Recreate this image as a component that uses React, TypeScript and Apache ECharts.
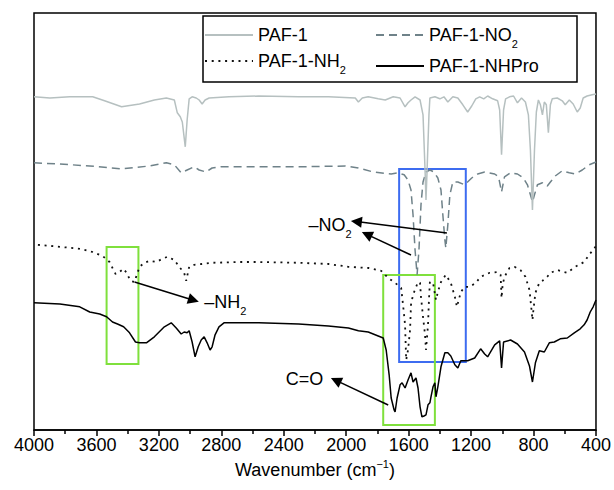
import React, { useEffect, useRef } from 'react';
import * as echarts from 'echarts';

const FONT = '"Liberation Sans", Arial, Helvetica, sans-serif';

// Wavenumber (cm-1), transmittance offset (a.u.)
const paf1: number[][] = [
  [4000,83.3],[3898,83.0],[3771,83.3],[3624,83.3],[3548,82.3],[3439,80.8],[3324,81.5],[3229,82.5],[3152,83.0],[3101,82.5],[3082,79.3],[3063,78.3],[3050,77.0],[3031,70.8],[3019,77.5],[3006,82.8],[2987,83.3],[2961,83.0],[2942,82.5],[2923,81.5],[2904,82.5],[2878,83.0],[2751,83.3],[2560,83.5],[2305,83.3],[2114,83.3],[1942,83.0],[1922,82.0],[1897,83.0],[1859,83.3],[1795,82.8],[1750,82.5],[1699,83.3],[1655,83.0],[1623,80.8],[1604,81.8],[1585,82.5],[1559,83.3],[1527,82.5],[1508,78.8],[1495,65.0],[1489,57.5],[1483,63.8],[1470,78.8],[1464,83.0],[1432,83.3],[1400,82.8],[1374,83.3],[1349,82.0],[1317,83.3],[1285,83.0],[1253,81.3],[1222,79.5],[1196,81.0],[1170,82.8],[1145,83.3],[1119,82.8],[1094,83.5],[1062,82.8],[1030,82.3],[1017,80.0],[1005,68.8],[992,80.0],[979,82.8],[954,83.3],[928,83.5],[903,81.8],[877,83.0],[852,82.0],[833,78.8],[820,70.0],[807,55.0],[794,70.0],[782,79.5],[769,82.5],[756,81.3],[743,78.8],[731,82.0],[718,81.3],[705,74.3],[692,81.3],[680,82.8],[648,83.0],[616,82.3],[597,81.3],[571,82.5],[546,81.5],[520,79.5],[501,80.5],[482,83.0],[457,83.5],[425,83.8],[400,84.0]
];

const pafNO2: number[][] = [
  [4000,66.8],[3834,66.5],[3643,66.0],[3439,65.3],[3261,66.0],[3152,66.8],[3101,66.3],[3057,64.3],[3019,65.0],[2974,65.8],[2942,65.0],[2898,64.5],[2859,65.5],[2802,65.8],[2560,65.8],[2305,65.8],[2005,66.0],[1922,65.5],[1827,64.5],[1712,64.0],[1668,64.3],[1629,63.8],[1604,62.5],[1585,60.0],[1572,53.8],[1559,45.0],[1546,38.8],[1534,45.0],[1521,56.3],[1508,62.0],[1489,64.5],[1464,65.0],[1438,64.5],[1413,63.0],[1393,60.0],[1381,53.8],[1368,47.5],[1362,45.5],[1349,51.3],[1336,58.8],[1317,62.0],[1285,62.0],[1241,61.3],[1196,63.0],[1158,64.0],[1113,64.5],[1049,64.0],[1024,63.3],[1005,59.5],[986,63.3],[947,64.3],[903,64.0],[865,63.0],[839,61.3],[820,58.8],[807,57.0],[794,58.8],[775,61.3],[743,61.8],[712,61.0],[692,62.0],[661,63.5],[616,64.8],[571,64.3],[533,64.0],[488,65.0],[444,66.3],[400,67.0]
];

const pafNH2: number[][] = [
  [3975,46.3],[3834,45.8],[3707,45.3],[3624,44.5],[3560,43.5],[3516,42.0],[3497,40.5],[3477,39.0],[3452,39.5],[3426,40.3],[3407,39.3],[3382,37.3],[3356,37.0],[3344,38.5],[3324,40.8],[3293,41.8],[3261,42.3],[3216,42.0],[3178,42.8],[3146,43.3],[3101,42.5],[3070,40.8],[3038,39.3],[3025,37.3],[3006,40.8],[2974,41.3],[2923,41.5],[2859,41.8],[2687,42.0],[2560,42.0],[2305,41.8],[2114,41.5],[1986,40.8],[1859,40.5],[1776,39.8],[1731,38.0],[1687,36.8],[1648,35.5],[1636,31.3],[1623,26.3],[1616,17.5],[1604,20.0],[1591,25.0],[1585,31.3],[1572,33.8],[1540,37.0],[1527,36.8],[1521,33.3],[1508,28.3],[1495,23.8],[1489,20.0],[1476,26.3],[1470,32.5],[1464,37.0],[1444,36.8],[1425,32.5],[1413,34.5],[1393,37.0],[1362,38.8],[1330,36.8],[1304,33.3],[1291,30.8],[1279,32.5],[1266,34.5],[1241,35.8],[1209,35.8],[1170,36.8],[1139,38.3],[1081,39.3],[1030,39.5],[1011,38.8],[1005,33.0],[998,36.3],[986,38.3],[954,40.5],[922,40.8],[884,40.0],[852,38.3],[826,35.0],[813,30.0],[807,27.5],[801,30.0],[788,34.3],[763,36.8],[743,37.3],[712,38.3],[692,39.3],[648,40.0],[584,39.3],[533,40.8],[476,42.0],[444,43.8],[412,45.3],[400,46.0]
];

const pafNHPro: number[][] = [
  [4000,31.8],[3834,31.5],[3707,30.8],[3643,29.5],[3579,29.0],[3535,28.3],[3497,27.0],[3465,26.5],[3426,25.8],[3388,24.3],[3350,22.0],[3324,21.8],[3280,21.8],[3229,23.3],[3165,25.8],[3121,26.8],[3089,25.5],[3057,24.0],[3038,24.5],[3019,24.3],[3006,24.8],[2987,22.0],[2968,18.3],[2948,20.8],[2929,22.5],[2910,23.3],[2891,21.8],[2872,20.0],[2859,20.8],[2840,23.8],[2815,25.8],[2783,26.8],[2560,26.8],[2305,26.5],[2114,26.0],[1986,25.5],[1922,24.8],[1859,24.5],[1795,23.5],[1763,23.0],[1744,20.0],[1725,13.8],[1712,8.0],[1693,5.0],[1687,4.5],[1674,8.0],[1655,11.3],[1642,11.8],[1623,10.5],[1604,12.5],[1585,14.3],[1572,12.0],[1553,13.0],[1540,10.5],[1527,5.8],[1515,3.3],[1502,3.5],[1489,3.8],[1476,6.3],[1464,6.8],[1457,8.3],[1444,10.8],[1432,11.8],[1425,8.3],[1413,10.8],[1393,15.8],[1368,19.3],[1349,19.3],[1330,18.5],[1304,16.3],[1285,15.5],[1266,17.3],[1222,17.3],[1177,18.0],[1139,20.3],[1113,19.0],[1094,18.3],[1049,21.3],[1017,22.3],[1005,15.5],[992,22.0],[947,22.5],[903,21.5],[858,19.5],[826,16.0],[807,12.0],[788,16.8],[763,19.8],[731,19.5],[699,21.8],[667,22.0],[629,22.8],[584,23.0],[539,24.3],[501,25.3],[476,26.3],[457,27.5],[437,29.5],[418,30.8],[400,32.5]
];

const seriesNames = ['PAF-1', 'PAF-1-NO2', 'PAF-1-NH2', 'PAF-1-NHPro'];

// Highlight boxes (corner coordinates in data space)
const boxFrom: number[][] = [[3535, 45.75], [1661, 65.25], [1763, 38.75]];
const boxTo: number[][] = [[3331, 16.5], [1234, 17.0], [1432, 1.25]];
const boxColors = ['#7fe03c', '#3d6cf0', '#7fe03c'];

// Arrows (tail -> head) in data space
const arrowFrom: number[][] = [[3356, 37.0], [1355, 49.25], [1585, 43.75], [1731, 6.25]];
const arrowTo: number[][] = [[2978, 32.45], [1935, 52.1], [1868, 48.9], [2066, 12.4]];

// Annotation texts
const noteText = ['{a|–NH}{s|2}', '{a|–NO}{s|2}', '{a|C=O}'];
const noteAt: number[][] = [[2910, 32.0], [2241, 51.25], [2388, 12.75]];

const richSub = {
  a: { fontFamily: FONT, fontSize: 18, lineHeight: 28, color: '#000', fill: '#000' },
  s: { fontFamily: FONT, fontSize: 11, lineHeight: 11, verticalAlign: 'bottom', color: '#000', fill: '#000' },
};

const legendFormatter = (name: string) =>
  /2$/.test(name) ? `{a|${name.slice(0, -1)}}{s|2}` : `{a|${name}}`;

const legendCommon = {
  orient: 'vertical',
  top: 26,
  padding: 0,
  itemGap: 8,
  itemWidth: 48,
  itemHeight: 14,
  selectedMode: false,
  formatter: legendFormatter,
  itemStyle: { opacity: 0 },
  textStyle: { fontFamily: FONT, fontSize: 18, color: '#000', rich: richSub },
};

export default function App() {
  const ref = useRef<HTMLDivElement>(null);
  useEffect(() => {
    if (!ref.current) return;
    const chart = echarts.init(ref.current, undefined, { renderer: 'svg' });
    const option: any = {
      animation: false,
      grid: { left: 34, right: 15, top: 13, bottom: 60, show: true, borderColor: '#000', borderWidth: 1.5 },
      legend: [
        { ...legendCommon, left: 204, data: [seriesNames[0], seriesNames[2]] },
        { ...legendCommon, left: 375, data: [seriesNames[1], seriesNames[3]] },
      ],
      xAxis: {
        type: 'value',
        inverse: true,
        min: 400,
        max: 4000,
        interval: 400,
        name: 'Wavenumber (cm{sup|−1})',
        nameLocation: 'middle',
        nameGap: 27,
        nameTextStyle: {
          fontFamily: FONT, fontSize: 18, color: '#000', lineHeight: 22,
          rich: { sup: { fontFamily: FONT, fontSize: 11, lineHeight: 16, verticalAlign: 'top', color: '#000' } },
        },
        axisLine: { show: true, onZero: false, lineStyle: { color: '#000', width: 1.5 } },
        axisTick: { show: true, inside: false, length: 6, lineStyle: { color: '#000', width: 1.5 } },
        minorTick: { show: true, splitNumber: 2, length: 4, lineStyle: { color: '#000', width: 1.5 } },
        axisLabel: { fontFamily: FONT, fontSize: 18, color: '#000', margin: 6, formatter: (v: number) => String(v) },
        splitLine: { show: false },
        minorSplitLine: { show: false },
      },
      yAxis: { type: 'value', min: 0, max: 104.25, show: false },
      series: [
        {
          name: seriesNames[1], type: 'line', data: pafNO2, symbol: 'none', silent: true,
          lineStyle: { color: '#6f8289', width: 1.5, type: [8, 5] }, itemStyle: { color: '#6f8289' },
        },
        {
          name: seriesNames[0], type: 'line', data: paf1, symbol: 'none', silent: true,
          lineStyle: { color: '#b6c0c0', width: 1.5, type: 'solid' }, itemStyle: { color: '#b6c0c0' },
        },
        {
          name: seriesNames[2], type: 'line', data: pafNH2, symbol: 'none', silent: true,
          lineStyle: { color: '#111', width: 1.8, type: [2, 4.7] }, itemStyle: { color: '#111' },
        },
        {
          name: seriesNames[3], type: 'line', data: pafNHPro, symbol: 'none', silent: true,
          lineStyle: { color: '#000', width: 1.5, type: 'solid' }, itemStyle: { color: '#000' },
        },
        {
          name: 'annotations', type: 'line', data: [], symbol: 'none', silent: true,
          markArea: {
            silent: true,
            label: { show: false },
            data: boxFrom.map((f, i) => [
              { coord: f, itemStyle: { color: 'rgba(0,0,0,0)', borderColor: boxColors[i], borderWidth: 2 } },
              { coord: boxTo[i] },
            ]),
          },
          markLine: {
            silent: true,
            symbol: ['none', 'triangle'],
            symbolSize: 11,
            label: { show: false },
            lineStyle: { color: '#000', width: 1.5, type: 'solid' },
            itemStyle: { color: '#000' },
            data: arrowFrom.map((f, i) => [{ coord: f }, { coord: arrowTo[i] }]),
          },
        },
      ],
    };
    chart.setOption(option);

    const px = (p: number[]) => chart.convertToPixel({ gridIndex: 0 }, p) as number[];
    const graphics: any[] = noteText.map((t, i) => {
      const p = px(noteAt[i]);
      return {
        type: 'text', x: p[0], y: p[1], silent: true, z: 20,
        style: { text: t, rich: richSub, align: 'left', verticalAlign: 'middle', fill: '#000', fontFamily: FONT, fontSize: 18 },
      };
    });
    graphics.push({
      type: 'rect', silent: true, z: 20,
      shape: { x: 203, y: 16, width: 374, height: 66 },
      style: { fill: 'none', stroke: '#000', lineWidth: 1.5 },
    });
    chart.setOption({ graphic: graphics });
    return () => chart.dispose();
  }, []);
  return (
    <div
      ref={ref}
      style={{ position: 'fixed', left: 0, top: 0, width: 614, height: 490, background: '#fff' }}
    />
  );
}
